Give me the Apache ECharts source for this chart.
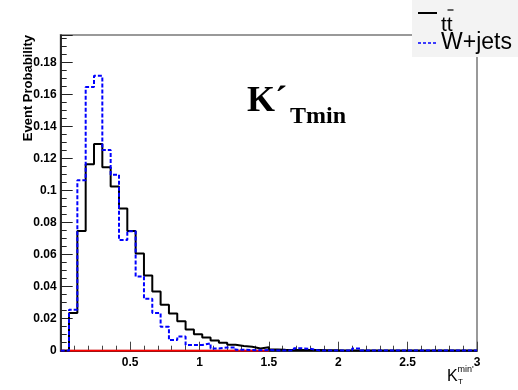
<!DOCTYPE html>
<html>
<head>
<meta charset="utf-8">
<script src="https://cdn.jsdelivr.net/npm/echarts@6/dist/echarts.min.js"></script>
<style>html,body{margin:0;padding:0;background:#fff}#c{width:518px;height:390px}</style>
</head>
<body>
<div id="c"></div>
<script>
// Histogram definition: 50 bins over [0, 3]
const binWidth = 0.06;
const xTickLabels = ['0.5', '1', '1.5', '2', '2.5', '3'];
const yTickLabels = ['0', '0.02', '0.04', '0.06', '0.08', '0.1', '0.12', '0.14', '0.16', '0.18'];

// t-tbar (black solid)
const ttbar = [
  0, 0.0235, 0.0747, 0.1164, 0.129, 0.1144, 0.1024, 0.0888, 0.0747, 0.0607,
  0.0469, 0.037, 0.0287, 0.0232, 0.0183, 0.0132, 0.0103, 0.0082, 0.0064, 0.005,
  0.0037, 0.0029, 0.0025, 0.0014, 0.0022, 0.0008, 0.0006, 0.0005, 0.0005, 0.0005,
  0.0004, 0.0003, 0.0003, 0.0002, 0.0002, 0.0002, 0.0002, 0.0001, 0.0001, 0.0001,
  0.0001, 0.0001, 0.0001, 0.0001, 0.0001, 0.0001, 0.0001, 0.0001, 0.0001, 0.0001
];
// W+jets (blue dashed)
const wjets = [
  0, 0.0256, 0.1063, 0.1645, 0.1715, 0.1253, 0.1098, 0.069, 0.0745, 0.0463,
  0.0324, 0.0235, 0.0149, 0.0066, 0.0088, 0.0035, 0.0035, 0.0046, 0.0014, 0.002,
  0.002, 0.0006, 0.0004, 0.0003, 0.0004, 0.0002, 0.0002, 0.0002, 0.0015, 0.0012,
  0.0002, 0.0001, 0.0001, 0.0001, 0.0001, 0.0014, 0.0001, 0.0001, 0.0001, 0.0001,
  0.0001, 0.0001, 0.0001, 0.0001, 0.0001, 0.0001, 0.0001, 0.0001, 0.0001, 0.0001
];
// third (empty) histogram, red, visible over [0, 1.5]
const other = [
  0, 0, 0, 0, 0, 0, 0, 0, 0, 0, 0, 0, 0, 0, 0, 0, 0, 0, 0, 0, 0, 0, 0, 0, 0
];

function histData(vals) {
  const d = vals.map((v, i) => [+(i * binWidth).toFixed(4), v]);
  d.push([+(vals.length * binWidth).toFixed(4), vals[vals.length - 1]]);
  return d;
}

const chart = echarts.init(document.getElementById('c'), null, {renderer: 'canvas'});
const labelFont = {fontFamily: 'Liberation Sans, Arial, sans-serif', fontWeight: 'bold', fontSize: 12, color: '#000'};
const sans = '"Liberation Sans", Arial, sans-serif';
const serif = '"Liberation Serif", "Times New Roman", serif';

chart.setOption({
  animation: false,
  backgroundColor: '#fff',
  grid: {left: 60.7, right: 41, top: 35, bottom: 39.3, show: true, borderColor: '#999', borderWidth: 2, backgroundColor: 'transparent'},
  xAxis: {
    type: 'value', min: 0, max: 3, interval: 0.5,
    axisLine: {show: true, onZero: false, lineStyle: {color: '#000', width: 1.5}},
    axisTick: {show: true, inside: true, length: 9, lineStyle: {color: '#444', width: 1}},
    minorTick: {show: true, splitNumber: 5, length: 5, lineStyle: {color: '#444', width: 1}},
    splitLine: {show: false},
    axisLabel: Object.assign({margin: 6, formatter: v => {
      const s = xTickLabels.find(t => Math.abs(parseFloat(t) - v) < 1e-6);
      return s || '';
    }}, labelFont)
  },
  yAxis: {
    type: 'value', min: 0, max: 0.197, interval: 0.02,
    axisLine: {show: true, onZero: false, lineStyle: {color: '#000', width: 1.5}},
    axisTick: {show: true, inside: true, length: 12, lineStyle: {color: '#222', width: 1}},
    minorTick: {show: true, splitNumber: 4, length: 6, lineStyle: {color: '#222', width: 1}},
    splitLine: {show: false},
    axisLabel: Object.assign({margin: 4, showMaxLabel: false, formatter: v => {
      const s = yTickLabels.find(t => Math.abs(parseFloat(t) - v) < 1e-6);
      return s || '';
    }}, labelFont)
  },
  series: [
    {type: 'line', step: 'end', symbol: 'none', data: histData(other), lineStyle: {color: '#ff0000', width: 2}, z: 2},
    {type: 'line', step: 'end', symbol: 'none', data: histData(ttbar), lineStyle: {color: '#000', width: 2}, z: 3},
    {type: 'line', step: 'end', symbol: 'none', data: histData(wjets), lineStyle: {color: '#0000ff', width: 2, type: [4, 2]}, z: 4}
  ],
  graphic: [
    // y-axis title
    {type: 'text', x: 28, y: 35, rotation: Math.PI / 2, z: 10,
      style: {text: 'Event Probability', font: 'bold 13px ' + sans, fill: '#000', align: 'right', verticalAlign: 'middle'}},
    // x-axis title K_T^{min'}
    {type: 'text', x: 447, y: 377, z: 10,
      style: {text: 'K', font: '16px ' + sans, fill: '#000', align: 'left', verticalAlign: 'middle'}},
    {type: 'text', x: 457.5, y: 370, z: 10,
      style: {text: "min'", font: '9px ' + sans, fill: '#000', align: 'left', verticalAlign: 'middle'}},
    {type: 'text', x: 458, y: 382, z: 10,
      style: {text: 'T', font: '8px ' + sans, fill: '#000', align: 'left', verticalAlign: 'middle'}},
    // in-plot title
    {type: 'text', x: 247, y: 101.5, z: 10,
      style: {text: 'K\u00b4', font: 'bold 36px ' + serif, fill: '#000', align: 'left', verticalAlign: 'middle'}},
    {type: 'text', x: 290, y: 116.5, z: 10,
      style: {text: 'Tmin', font: 'bold 24px ' + serif, fill: '#000', align: 'left', verticalAlign: 'middle'}},
    // legend box
    {type: 'rect', shape: {x: 412, y: 0, width: 106, height: 57}, style: {fill: '#f3f3f3'}, z: 20},
    {type: 'line', shape: {x1: 418, y1: 13, x2: 437, y2: 13}, style: {stroke: '#000', lineWidth: 2}, z: 21},
    {type: 'text', x: 441, y: 25.3, z: 21,
      style: {text: 'tt', font: '21px ' + sans, fill: '#000', align: 'left', verticalAlign: 'middle'}},
    {type: 'line', shape: {x1: 447.5, y1: 10, x2: 453.5, y2: 10}, style: {stroke: '#000', lineWidth: 1.2}, z: 21},
    {type: 'line', shape: {x1: 418, y1: 43, x2: 437, y2: 43}, style: {stroke: '#0000ff', lineWidth: 1.5, lineDash: [3, 2]}, z: 21},
    {type: 'text', x: 441, y: 43, z: 21,
      style: {text: 'W+jets', font: '23px ' + sans, fill: '#000', align: 'left', verticalAlign: 'middle'}}
  ]
});
</script>
</body>
</html>
